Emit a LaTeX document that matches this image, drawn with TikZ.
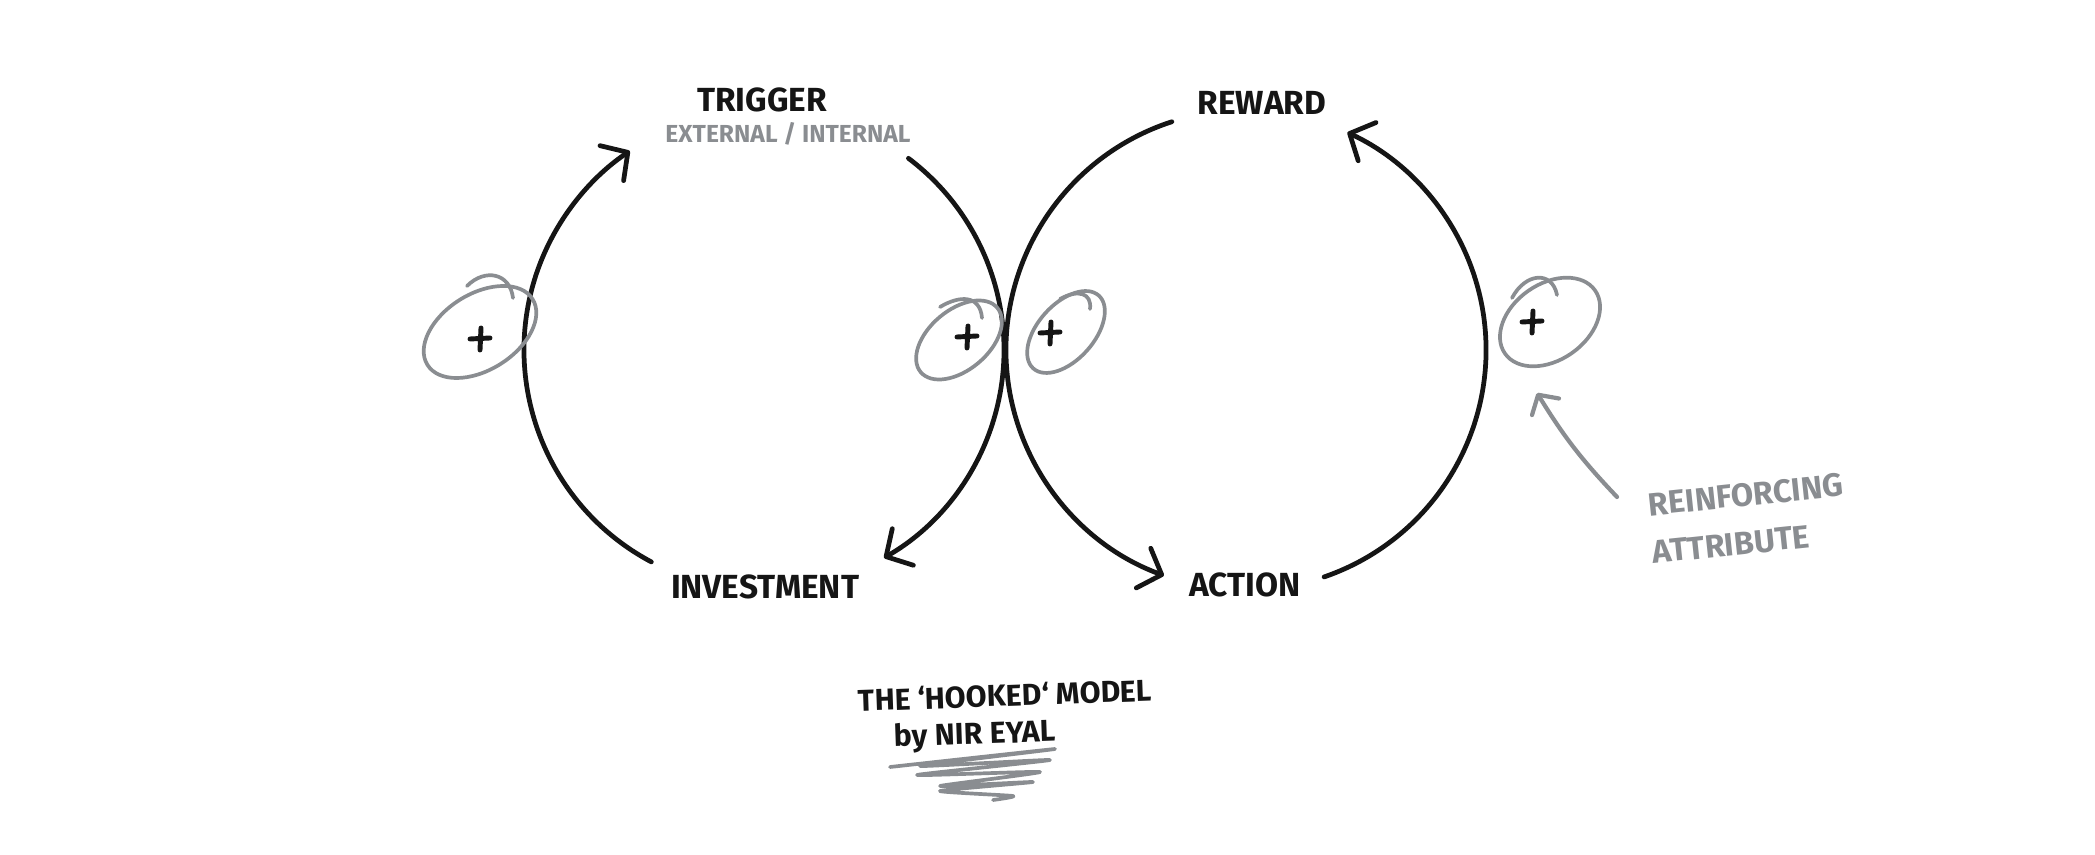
\documentclass[tikz,border=0pt]{standalone}
\usepackage{fontspec}
\setmainfont{Fira Sans}
\usetikzlibrary{arrows.meta,calc}
\definecolor{ink}{HTML}{151515}
\definecolor{pen}{HTML}{8A8D91}
\tikzset{
  loop/.style={draw=ink, line width=1.35pt, line cap=round},
  tip/.style={-{Straight Barb[length=5.5pt,width=12pt,round]}},
  ring/.style={draw=pen, line width=1.05pt, line cap=round},
  plusmark/.style={draw=ink, line width=1.4pt, line cap=round},
  lab/.style={text=ink, font=\fontsize{9.5}{11}\selectfont\bfseries, inner sep=0pt},
  sublab/.style={text=pen, font=\fontsize{7}{8}\selectfont\bfseries, inner sep=0pt},
  note/.style={text=pen, font=\fontsize{9.2}{11}\selectfont\bfseries, inner sep=0pt},
  title/.style={text=ink, font=\fontsize{8.6}{10}\selectfont\bfseries, inner sep=0pt},
}
\begin{document}
\begin{tikzpicture}[x=0.01cm,y=0.01cm]
\useasboundingbox (0,0) rectangle (2095,855);
% circle centres
\coordinate (L) at (764,505);
\coordinate (R) at (1246,505);
% arc end points
\coordinate (la) at ($(L)+(242:240)$);
\coordinate (lb) at ($(L)+(53:240)$);
\coordinate (ra) at ($(R)+(108:240)$);
\coordinate (rb) at ($(R)+(-71:240)$);
% loops
\draw[loop,tip] (la) arc[start angle=242, end angle=124, radius=240];
\draw[loop,tip] (lb) arc[start angle=53, end angle=-60, radius=240];
\draw[loop,tip] (ra) arc[start angle=108, end angle=250, radius=240];
\draw[loop,tip] (rb) arc[start angle=-71, end angle=65, radius=240];
% labels
\node[lab] (trig) at (762,755) {TRIGGER};
\node[sublab] (ext) at (788,721) {EXTERNAL / INTERNAL};
\node[lab] (rew) at (1262,752) {REWARD};
\node[lab] (inv) at (765,268) {INVESTMENT};
\node[lab] (act) at (1245,270) {ACTION};
% reinforcing marks
\coordinate (e1) at (480,523);
\coordinate (e2) at (959,515);
\coordinate (e3) at (1066,523);
\coordinate (e4) at (1550,533);
\draw[ring] (e1) ellipse[x radius=62, y radius=38, rotate=32];
\draw[ring] (467,569) .. controls (485,587) and (510,582) .. (513,557);
\draw[ring] (e2) ellipse[x radius=50, y radius=30, rotate=40];
\draw[ring] (940,548) .. controls (960,560) and (980,560) .. (982,537);
\draw[ring] (e3) ellipse[x radius=49, y radius=28, rotate=48];
\draw[ring] (1060,556) .. controls (1078,566) and (1092,562) .. (1090,546);
\draw[ring] (e4) ellipse[x radius=55, y radius=38, rotate=35];
\draw[ring] (1512,557) .. controls (1525,582) and (1552,585) .. (1557,560);
\foreach \p/\q in {480/516, 967/518, 1050/522, 1532/533}{
  \draw[plusmark] (\p-10,\q) -- (\p+10,\q+1) (\p,\q-11) -- (\p+1,\q+11);
}
% annotation
\node[note, anchor=west, rotate=6] (reinf) at (1648,350) {REINFORCING};
\node[note, anchor=west, rotate=6] (attr) at (1652,302) {ATTRIBUTE};
\coordinate (arrstart) at (1617,358);
\coordinate (arrend) at (1537,462);
\draw[ring, line width=1.2pt, -{Straight Barb[length=4pt,width=9pt,round]}] (arrstart) to[bend left=6] (arrend);
% title
\node[title, rotate=2] (t1) at (1005,160) {THE \textquoteleft HOOKED\textquoteleft\ MODEL};
\node[title, rotate=2] (t2) at (975,119) {by NIR EYAL};
\draw[ring, line join=round] plot[smooth, tension=0.3] coordinates {
  (890,88) (1055,106) (920,89) (1050,95) (917,80) (1040,83)
  (940,69) (1033,73) (940,64) (1013,59) (993,55)};
\end{tikzpicture}
\end{document}
